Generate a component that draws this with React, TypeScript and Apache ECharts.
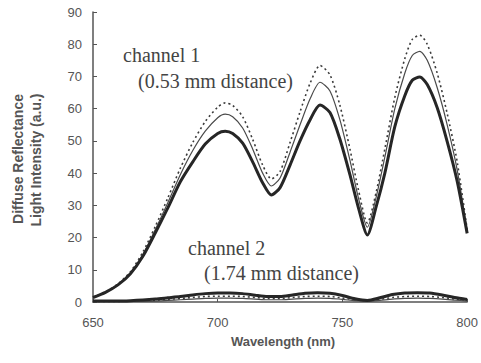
import React, { useEffect, useRef } from "react";
import * as echarts from "echarts";

// Channel 1 (0.53 mm distance)
const ch1Wavelengths = [650, 655, 660, 665, 670, 675, 680, 685, 690, 695, 700, 703, 706, 710, 714, 718, 721.5, 725, 729, 733, 737, 741, 745, 749, 753, 756.5, 760, 763.5, 767, 771, 775, 778, 781, 784, 788, 792, 796, 800];
const ch1Thick = [1.4, 3.0, 5.3, 8.8, 14.2, 21.5, 29.2, 37.3, 43.5, 49.0, 52.3, 53.0, 52.3, 49.3, 43.5, 37.0, 33.2, 35.5, 42.5, 50.0, 56.5, 61.1, 58.8, 50.5, 39.5, 29.0, 20.8, 29.5, 40.0, 54.4, 64.0, 68.8, 69.8, 67.5, 60.3, 49.8, 37.5, 21.3];
const ch1Thin = [1.4, 3.0, 5.4, 9.0, 14.8, 22.5, 30.8, 39.5, 47.0, 53.0, 57.2, 58.3, 57.5, 54.0, 47.5, 40.0, 36.0, 38.5, 46.5, 55.0, 63.0, 68.2, 65.5, 56.5, 44.0, 32.0, 23.2, 32.5, 45.0, 60.0, 71.0, 76.5, 77.8, 75.0, 66.5, 55.0, 41.0, 22.0];
const ch1Dashed = [1.5, 3.1, 5.6, 9.4, 15.5, 23.5, 32.3, 41.5, 49.5, 56.0, 60.5, 61.8, 61.0, 57.5, 50.5, 42.5, 38.2, 40.5, 49.5, 59.0, 67.8, 73.4, 70.5, 61.0, 47.5, 34.5, 24.5, 34.0, 47.5, 63.5, 75.5, 81.5, 82.8, 80.0, 71.0, 58.5, 43.5, 22.5];

// Channel 2 (1.74 mm distance)
const ch2Wavelengths = [650, 655, 660, 665, 670, 675, 680, 685, 690, 695, 700, 705, 710, 715, 720, 725, 730, 735, 740, 745, 750, 755, 760, 765, 770, 775, 780, 785, 790, 795, 800];
const ch2Thick = [0.3, 0.3, 0.3, 0.4, 0.6, 0.9, 1.3, 1.7, 2.2, 2.6, 2.8, 2.8, 2.6, 2.1, 1.7, 1.7, 2.2, 2.7, 2.9, 2.7, 2.0, 1.0, 0.5, 1.3, 2.3, 2.8, 2.9, 2.8, 2.2, 1.4, 0.8];
const ch2Thin = [0.1, 0.1, 0.1, 0.15, 0.2, 0.3, 0.5, 0.7, 0.9, 1.1, 1.2, 1.2, 1.1, 0.9, 0.7, 0.7, 0.9, 1.1, 1.2, 1.1, 0.8, 0.4, 0.2, 0.5, 0.9, 1.1, 1.2, 1.1, 0.9, 0.6, 0.3];
const ch2Dashed = [0.2, 0.2, 0.2, 0.25, 0.3, 0.5, 0.8, 1.1, 1.4, 1.7, 1.8, 1.8, 1.7, 1.4, 1.1, 1.1, 1.4, 1.7, 1.8, 1.7, 1.2, 0.7, 0.3, 0.8, 1.4, 1.7, 1.8, 1.7, 1.4, 0.9, 0.5];

const xTicks = [650, 700, 750, 800];
const yMin = 0;
const yMax = 90;
const yStep = 10;

const pair = (xs: number[], ys: number[]) => xs.map((x, i) => [x, ys[i]]);

export default function App() {
  const ref = useRef<HTMLDivElement>(null);
  useEffect(() => {
    if (!ref.current) return;
    const chart = echarts.init(ref.current, null, { renderer: "svg" });
    const thick = { color: "#262626", width: 3 };
    const thin = { color: "#4a4a4a", width: 1.2 };
    const dashed = { color: "#3a3a3a", width: 1.6, type: [2, 3] as any };
    const mk = (name: string, data: number[][], ls: any, z: number) => ({
      name,
      type: "line",
      data,
      showSymbol: false,
      smooth: 0.25,
      lineStyle: ls,
      z,
    });
    chart.setOption({
      animation: false,
      backgroundColor: "#ffffff",
      grid: { left: 93, right: 9, top: 12, bottom: 61 },
      xAxis: {
        type: "value",
        min: xTicks[0],
        max: xTicks[xTicks.length - 1],
        interval: 50,
        axisLine: { show: true, lineStyle: { color: "#555", width: 1.5 } },
        axisTick: { show: true, inside: true, length: 3, lineStyle: { color: "#555" } },
        axisLabel: { margin: 14, color: "#555", fontSize: 13, fontFamily: "Liberation Sans" },
        splitLine: { show: false },
      },
      yAxis: {
        type: "value",
        min: yMin,
        max: yMax,
        interval: yStep,
        axisLine: { show: true, lineStyle: { color: "#555", width: 1.5 } },
        axisTick: { show: true, inside: true, length: 4, lineStyle: { color: "#555" } },
        axisLabel: { margin: 11, color: "#555", fontSize: 13, fontFamily: "Liberation Sans" },
        splitLine: { show: false },
      },
      series: [
        mk("ch1 dashed", pair(ch1Wavelengths, ch1Dashed), dashed, 2),
        mk("ch1 thin", pair(ch1Wavelengths, ch1Thin), thin, 3),
        mk("ch1 thick", pair(ch1Wavelengths, ch1Thick), thick, 4),
        mk("ch2 dashed", pair(ch2Wavelengths, ch2Dashed), dashed, 2),
        mk("ch2 thin", pair(ch2Wavelengths, ch2Thin), thin, 3),
        mk("ch2 thick", pair(ch2Wavelengths, ch2Thick), thick, 4),
      ],
      graphic: [
        {
          type: "text",
          x: 18,
          y: 159,
          rotation: Math.PI / 2,
          style: {
            text: "Diffuse Reflectance",
            fill: "#555",
            font: "bold 14px 'Liberation Sans'",
            textAlign: "center",
            textVerticalAlign: "middle",
          },
        },
        {
          type: "text",
          x: 36,
          y: 160,
          rotation: Math.PI / 2,
          style: {
            text: "Light Intensity (a.u.)",
            fill: "#555",
            font: "bold 14px 'Liberation Sans'",
            textAlign: "center",
            textVerticalAlign: "middle",
          },
        },
        {
          type: "text",
          x: 283,
          y: 341,
          style: {
            text: "Wavelength (nm)",
            fill: "#555",
            font: "bold 13px 'Liberation Sans'",
            textAlign: "center",
            textVerticalAlign: "middle",
          },
        },
        {
          type: "text",
          x: 123,
          y: 55,
          style: { text: "channel 1", fill: "#444", font: "20px 'Liberation Serif'", textAlign: "left", textVerticalAlign: "middle" },
        },
        {
          type: "text",
          x: 138,
          y: 81,
          style: { text: "(0.53 mm distance)", fill: "#444", font: "20px 'Liberation Serif'", textAlign: "left", textVerticalAlign: "middle" },
        },
        {
          type: "text",
          x: 188,
          y: 248,
          style: { text: "channel 2", fill: "#444", font: "20px 'Liberation Serif'", textAlign: "left", textVerticalAlign: "middle" },
        },
        {
          type: "text",
          x: 204,
          y: 273,
          style: { text: "(1.74 mm distance)", fill: "#444", font: "20px 'Liberation Serif'", textAlign: "left", textVerticalAlign: "middle" },
        },
      ],
    });
    return () => chart.dispose();
  }, []);
  return <div ref={ref} style={{ width: 481, height: 363, position: "absolute", left: 0, top: 0 }} />;
}
